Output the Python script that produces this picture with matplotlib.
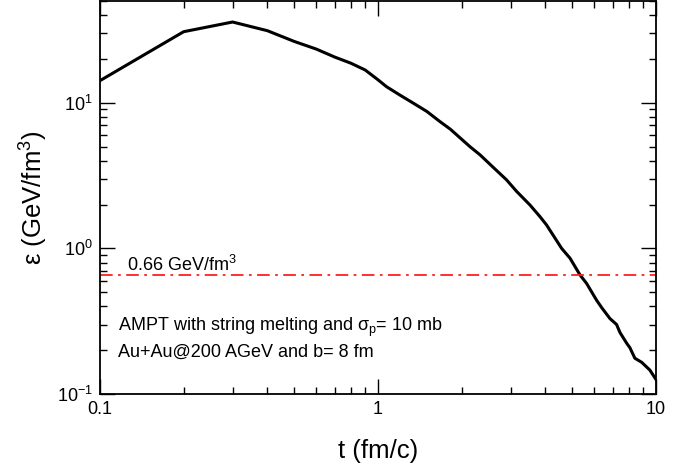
import matplotlib
matplotlib.use("Agg")
import matplotlib.pyplot as plt
from matplotlib.ticker import NullFormatter, LogLocator

plt.rcParams['font.family'] = ['Liberation Sans', 'DejaVu Sans']
plt.rcParams['mathtext.fontset'] = 'custom'
plt.rcParams['mathtext.rm'] = 'Liberation Sans'
plt.rcParams['mathtext.it'] = 'Liberation Sans:italic'

# energy density vs time
t = [0.1, 0.2, 0.3, 0.4, 0.5, 0.6, 0.7, 0.8, 0.9, 1.0, 1.074, 1.2, 1.34, 1.5,
     1.67, 1.82, 2.14, 2.33, 2.6, 2.9, 3.15, 3.52, 3.83, 4.04, 4.58, 4.91,
     5.33, 5.63, 6.12, 6.38, 6.83, 7.22, 7.42, 7.85, 8.06, 8.4, 8.89, 9.51,
     10.0]
eps = [14.2, 30.8, 35.9, 31.3, 26.4, 23.4, 20.6, 18.7, 16.8, 14.4, 12.9, 11.3,
       9.95, 8.72, 7.44, 6.6, 5.01, 4.39, 3.6, 2.96, 2.47, 1.99, 1.65, 1.45,
       1.0, 0.856, 0.658, 0.575, 0.44, 0.392, 0.33, 0.3, 0.265, 0.223,
       0.208, 0.176, 0.165, 0.146, 0.126]
eps_crit = 0.66

xticks = [0.1, 1, 10]
xlabels = ["0.1", "1", "10"]

fig = plt.figure(figsize=(6.89, 4.65), dpi=100)
ax = fig.add_axes([0.1451, 0.1527, 0.8069, 0.845])

ax.plot(t, eps, color='black', lw=2.2)
ax.axhline(eps_crit, color='#ff2020', lw=1.3, ls=(0, (7, 3, 1.5, 3)))

ax.set_xscale('log')
ax.set_yscale('log')
ax.set_xlim(0.1, 10)
ax.set_ylim(0.1, 50)

ax.set_xticks(xticks)
ax.set_xticklabels(xlabels)
ax.xaxis.set_minor_locator(LogLocator(base=10, subs=range(2, 10)))
ax.xaxis.set_minor_formatter(NullFormatter())
ax.yaxis.set_minor_locator(LogLocator(base=10, subs=range(2, 10)))
ax.yaxis.set_minor_formatter(NullFormatter())

ax.tick_params(which='both', direction='in', top=True, right=True,
               labelsize=13, width=1.0)
ax.tick_params(which='major', length=10.5, pad=5)
ax.tick_params(which='minor', length=5)
for s in ax.spines.values():
    s.set_linewidth(1.3)

ax.set_xlabel("t (fm/c)", fontsize=18.5, labelpad=15)
ax.set_ylabel("ε (GeV/fm$^3$)", fontsize=18.5, labelpad=5)

ax.text(0.048, 0.328, "0.66 GeV/fm$^3$", transform=ax.transAxes,
        fontsize=13, va='center', ha='left')
ax.text(0.032, 0.17, r"AMPT with string melting and σ$_\mathregular{p}$= 10 mb",
        transform=ax.transAxes, fontsize=13, va='center', ha='left')
ax.text(0.032, 0.107, "Au+Au@200 AGeV and b= 8 fm",
        transform=ax.transAxes, fontsize=13, va='center', ha='left')

fig.savefig("out.png", dpi=100)
